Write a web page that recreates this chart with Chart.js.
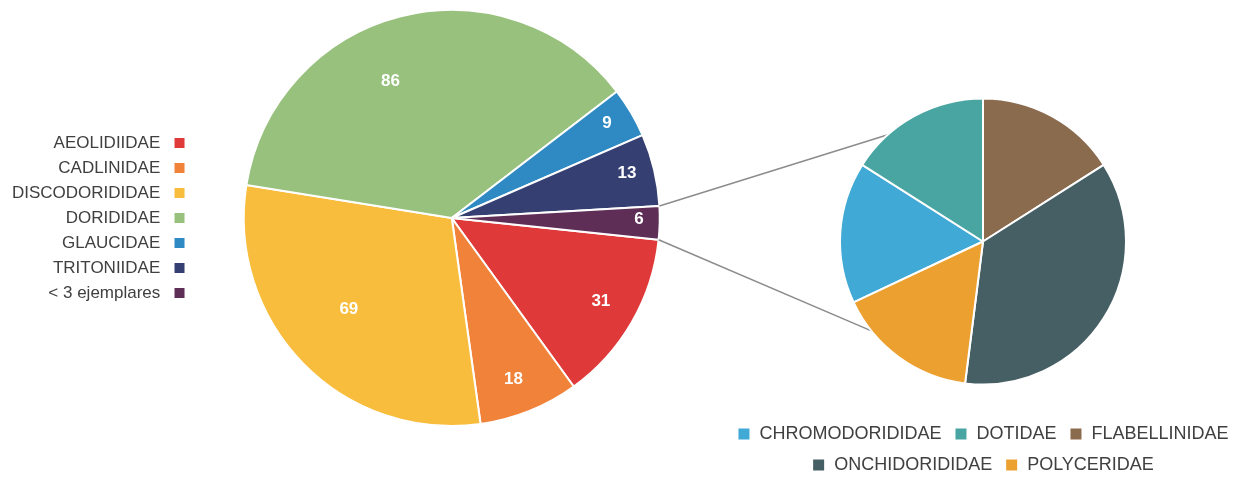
<!DOCTYPE html>
<html>
<head>
<meta charset="utf-8">
<script src="https://cdn.jsdelivr.net/npm/chart.js@4.4.0/dist/chart.umd.min.js"></script>
<style>
  html, body { margin: 0; padding: 0; background: #fff; }
  body { width: 1233px; height: 477px; position: relative; overflow: hidden; }
  #mainChart { position: absolute; left: 0; top: 0; }
  #subChart { position: absolute; left: 650px; top: 0; }
</style>
</head>
<body>
<canvas id="mainChart" width="710" height="477"></canvas>
<canvas id="subChart" width="640" height="500"></canvas>

<script>
const mainLabels = ["AEOLIDIIDAE", "CADLINIDAE", "DISCODORIDIDAE", "DORIDIDAE", "GLAUCIDAE", "TRITONIIDAE", "< 3 ejemplares"];
const mainValues = [31, 18, 69, 86, 9, 13, 6];
const mainColors = ["#E0393A", "#F0823A", "#F8BD3C", "#97C17C", "#2F8AC4", "#353F72", "#5F2E57"];

const subLabels = ["CHROMODORIDIDAE", "DOTIDAE", "FLABELLINIDAE", "ONCHIDORIDIDAE", "POLYCERIDAE"];
const subValues = [4, 4, 4, 9, 4];
const subColors = ["#41A9D6", "#49A5A1", "#8A6B4E", "#455F64", "#EBA030"];

// where the value labels sit, as a share of the radius
const labelRadius = [0.82, 0.83, 0.66, 0.72, 0.875, 0.87, 0.9];
const labelTurn = [-1, 1, 3, -10, -1, -1, -1];

const fontFamily = "'Liberation Sans', Arial, sans-serif";
Chart.defaults.font.family = fontFamily;
Chart.defaults.color = "#404040";

const valueLabels = {
  id: "valueLabels",
  afterDatasetsDraw(chart) {
    let ctx = chart.ctx;
    let arcs = chart.getDatasetMeta(0).data;
    ctx.save();
    ctx.fillStyle = "#fff";
    ctx.font = "bold 17px " + fontFamily;
    ctx.textAlign = "center";
    ctx.textBaseline = "middle";
    for (let i = 0; i < arcs.length; i++) {
      let a = arcs[i];
      let mid = (a.startAngle + a.endAngle) / 2 + labelTurn[i] * Math.PI / 180;
      let r = a.outerRadius * labelRadius[i];
      ctx.fillText(mainValues[i], a.x + Math.cos(mid) * r, a.y + Math.sin(mid) * r);
    }
    ctx.restore();
  },
};

function legendWithSpace(chart) {
  let items = Chart.overrides.pie.plugins.legend.labels.generateLabels(chart);
  items.forEach((item) => (item.text = item.text + " "));
  return items;
}

const mainChart = new Chart(document.getElementById("mainChart"), {
  type: "pie",
  data: {
    labels: mainLabels,
    datasets: [
      {
        data: mainValues,
        backgroundColor: mainColors,
        borderColor: "#fff",
        borderWidth: 2,
        radius: 208,
      },
    ],
  },
  options: {
    responsive: false,
    animation: false,
    events: [],
    rotation: 96,
    layout: { padding: { top: 10, bottom: 51, left: 2, right: 0 } },
    plugins: {
      tooltip: { enabled: false },
      legend: {
        position: "left",
        rtl: true,
        textDirection: "ltr",
        labels: {
          boxWidth: 12,
          boxHeight: 12,
          padding: 8,
          font: { size: 17 },
          generateLabels: legendWithSpace,
        },
      },
    },
  },
  plugins: [valueLabels],
});

// the two grey lines from the small slice to the second pie
const subLineEnds = [228.3, 141.3];

const connectorLines = {
  id: "connectorLines",
  beforeDatasetsDraw(chart) {
    let slice = mainChart.getDatasetMeta(0).data[mainValues.length - 1];
    let sub = chart.getDatasetMeta(0).data[0];
    let mainBox = mainChart.canvas.getBoundingClientRect();
    let subBox = chart.canvas.getBoundingClientRect();
    let dx = mainBox.left - subBox.left;
    let dy = mainBox.top - subBox.top;
    let starts = [slice.startAngle, slice.endAngle];
    let ctx = chart.ctx;
    ctx.save();
    ctx.strokeStyle = "#8C8C8C";
    ctx.lineWidth = 1.5;
    for (let i = 0; i < 2; i++) {
      let end = subLineEnds[i] * Math.PI / 180;
      ctx.beginPath();
      ctx.moveTo(slice.x + dx + Math.cos(starts[i]) * slice.outerRadius, slice.y + dy + Math.sin(starts[i]) * slice.outerRadius);
      ctx.lineTo(sub.x + Math.cos(end) * sub.outerRadius, sub.y + Math.sin(end) * sub.outerRadius);
      ctx.stroke();
    }
    ctx.restore();
  },
};

const subChart = new Chart(document.getElementById("subChart"), {
  type: "pie",
  data: {
    labels: subLabels,
    datasets: [
      {
        data: subValues,
        backgroundColor: subColors,
        borderColor: "#fff",
        borderWidth: 2,
        radius: 143,
      },
    ],
  },
  options: {
    responsive: false,
    animation: false,
    events: [],
    rotation: -115.2,
    layout: { padding: { top: 71, bottom: 16, left: 26, right: 0 } },
    plugins: {
      tooltip: { enabled: false },
      legend: {
        position: "bottom",
        labels: {
          boxWidth: 13,
          boxHeight: 13,
          padding: 13,
          font: { size: 18 },
        },
      },
    },
  },
  plugins: [connectorLines],
});
</script>
</body>
</html>
